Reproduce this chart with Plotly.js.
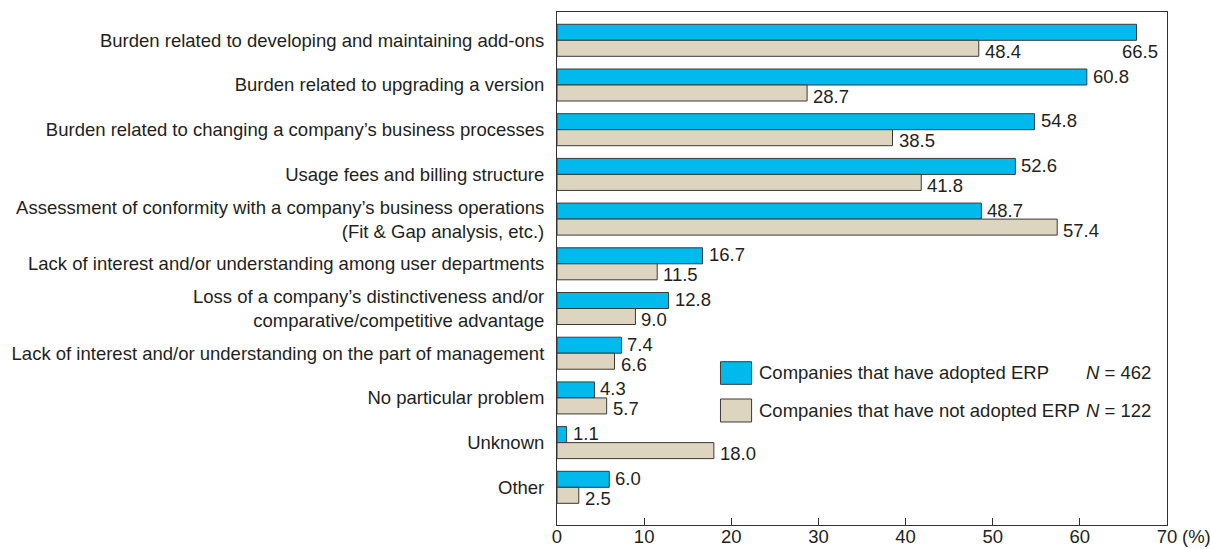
<!DOCTYPE html>
<html>
<head>
<meta charset="utf-8">
<script src="https://cdn.plot.ly/plotly-3.0.1.min.js"></script>
<style>html,body{margin:0;padding:0;background:#fff;}#chart{width:1210px;height:549px;}</style>
</head>
<body>
<div id="chart"></div>
<script>
const categories = [
  "Burden related to developing and maintaining add-ons",
  "Burden related to upgrading a version",
  "Burden related to changing a company\u2019s business processes",
  "Usage fees and billing structure",
  "Assessment of conformity with a company\u2019s business operations<br>(Fit & Gap analysis, etc.)",
  "Lack of interest and/or understanding among user departments",
  "Loss of a company\u2019s distinctiveness and/or<br>comparative/competitive advantage",
  "Lack of interest and/or understanding on the part of management",
  "No particular problem",
  "Unknown",
  "Other"
];
const adopted = [66.5, 60.8, 54.8, 52.6, 48.7, 16.7, 12.8, 7.4, 4.3, 1.1, 6.0];
const notAdopted = [48.4, 28.7, 38.5, 41.8, 57.4, 11.5, 9.0, 6.6, 5.7, 18.0, 2.5];
const seriesNames = ["Companies that have adopted ERP", "Companies that have not adopted ERP"];
const seriesN = ["<i>N</i> = 462", "<i>N</i> = 122"];
const xTicks = [0, 10, 20, 30, 40, 50, 60, 70];

const FONT = "Liberation Sans, Arial, Helvetica, sans-serif";
const FS = 18.5;
const TXT = "#231f20";
const BLUE = "#00BAEE";
const BEIGE = "#DDD5C0";
const EDGE = "#3a3a3a";
const idx = categories.map((_, i) => i);
const BARGAP = 0.284;
const half = (1 - BARGAP) / 4;

const traces = [
  {type: "bar", orientation: "h", y: idx, x: adopted, name: seriesNames[0],
   marker: {color: BLUE, line: {color: EDGE, width: 1}}, hoverinfo: "x"},
  {type: "bar", orientation: "h", y: idx, x: notAdopted, name: seriesNames[1],
   marker: {color: BEIGE, line: {color: EDGE, width: 1}}, hoverinfo: "x"}
];

const lblFont = {family: FONT, size: FS, color: TXT};
const annotations = [];
adopted.forEach((v, i) => {
  if (v > 65) {
    annotations.push({x: v, y: i + half, xref: "x", yref: "y", text: v.toFixed(1), showarrow: false,
      xanchor: "center", yanchor: "middle", xshift: 3, yshift: -3, font: lblFont, borderpad: 0});
  } else {
    annotations.push({x: v, y: i - half, xref: "x", yref: "y", text: v.toFixed(1), showarrow: false,
      xanchor: "left", yanchor: "middle", xshift: 5, yshift: 1, font: lblFont, borderpad: 0});
  }
});
notAdopted.forEach((v, i) => {
  annotations.push({x: v, y: i + half, xref: "x", yref: "y", text: v.toFixed(1), showarrow: false,
    xanchor: "left", yanchor: "middle", xshift: 5, yshift: -3, font: lblFont, borderpad: 0});
});
// legend
const legY = [0.2963, 0.2232];
const legBox = [[0.3183, 0.2742], [0.2456, 0.2008]];
const legColors = [BLUE, BEIGE];
const shapes = [];
seriesNames.forEach((n, k) => {
  annotations.push({x: 0.328, y: legY[k], xref: "paper", yref: "paper", text: n, showarrow: false,
    xanchor: "left", yanchor: "middle", font: lblFont});
  annotations.push({x: 0.977, y: legY[k], xref: "paper", yref: "paper", text: seriesN[k], showarrow: false,
    xanchor: "right", yanchor: "middle", font: lblFont});
  shapes.push({type: "rect", xref: "paper", yref: "paper", x0: 0.268, x1: 0.319, y0: legBox[k][1], y1: legBox[k][0],
    fillcolor: legColors[k], line: {color: EDGE, width: 1}});
});
annotations.push({x: 1, y: 0, xref: "paper", yref: "paper", text: "(%)", showarrow: false,
  xanchor: "left", yanchor: "top", xshift: 14, yshift: 0, font: lblFont, borderpad: 0});

const layout = {
  width: 1210, height: 549,
  margin: {l: 557, r: 43, t: 12, b: 24, pad: 0},
  paper_bgcolor: "#fff", plot_bgcolor: "#fff",
  barmode: "group", bargap: BARGAP, bargroupgap: 0,
  showlegend: false,
  font: {family: FONT, size: FS, color: TXT},
  xaxis: {range: [0, 70], tickvals: xTicks, ticktext: xTicks.map(String), ticks: "inside", ticklen: 7,
    tickcolor: "#333", showgrid: false, zeroline: false, showline: true, linecolor: "#333", linewidth: 1,
    mirror: true, tickfont: lblFont, fixedrange: true, ticklabelstandoff: -5},
  yaxis: {range: [10.843, -0.633], tickvals: idx, ticktext: categories, ticks: "", showgrid: false,
    zeroline: false, showline: true, linecolor: "#333", linewidth: 1, mirror: true,
    ticklabelstandoff: 8, tickfont: lblFont, fixedrange: true},
  annotations: annotations,
  shapes: shapes
};

Plotly.newPlot("chart", traces, layout, {displayModeBar: false, staticPlot: true});
</script>
</body>
</html>
